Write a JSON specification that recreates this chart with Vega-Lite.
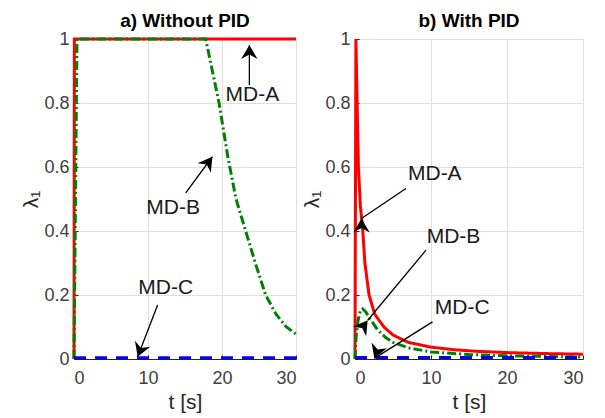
{
  "$schema": "https://vega.github.io/schema/vega-lite/v6.json",
  "background": "white",
  "padding": {"left": 20, "top": 12, "right": 12, "bottom": 2},
  "bounds": "flush",
  "spacing": 59,
  "config": {
    "view": {"stroke": null},
    "font": "Liberation Sans",
    "axis": {
      "labelFont": "Liberation Sans", "labelFontSize": 18, "labelColor": "#404040",
      "titleFont": "Liberation Sans", "titleFontSize": 21, "titleFontWeight": "normal", "titleColor": "#262626",
      "gridColor": "#dedede", "gridWidth": 1, "domainColor": "#262626", "domainWidth": 1,
      "tickColor": "#262626", "tickSize": -4, "labelPadding": 14
    },
    "axisY": {"labelPadding": 9, "titlePadding": 2},
    "title": {"font": "Liberation Sans", "fontSize": 19, "fontWeight": "bold", "color": "#000000", "frame": "group", "offset": -1, "anchor": "middle"}
  },
  "datasets": {
    "left": [
      {"t": 0, "lambda": 0, "series": "MD-A"},
      {"t": 0.05, "lambda": 1, "series": "MD-A"},
      {"t": 30, "lambda": 1, "series": "MD-A"},
      {"t": 0, "lambda": 0, "series": "MD-B"},
      {"t": 0.4, "lambda": 1, "series": "MD-B"},
      {"t": 17.8, "lambda": 1, "series": "MD-B"},
      {"t": 19.6, "lambda": 0.8, "series": "MD-B"},
      {"t": 20.8, "lambda": 0.63, "series": "MD-B"},
      {"t": 21.9, "lambda": 0.5, "series": "MD-B"},
      {"t": 23.2, "lambda": 0.4, "series": "MD-B"},
      {"t": 24.5, "lambda": 0.3, "series": "MD-B"},
      {"t": 25.9, "lambda": 0.2, "series": "MD-B"},
      {"t": 27.3, "lambda": 0.14, "series": "MD-B"},
      {"t": 28.7, "lambda": 0.1, "series": "MD-B"},
      {"t": 30, "lambda": 0.078, "series": "MD-B"},
      {"t": 0, "lambda": 0.004, "series": "MD-C"},
      {"t": 30, "lambda": 0.004, "series": "MD-C"}
    ],
    "right": [
      {"t": 0, "lambda": 0, "series": "MD-A"},
      {"t": 0.12, "lambda": 1.0, "series": "MD-A"},
      {"t": 0.28, "lambda": 0.8, "series": "MD-A"},
      {"t": 0.45, "lambda": 0.6, "series": "MD-A"},
      {"t": 0.7, "lambda": 0.48, "series": "MD-A"},
      {"t": 1.0, "lambda": 0.41, "series": "MD-A"},
      {"t": 1.3, "lambda": 0.3, "series": "MD-A"},
      {"t": 1.85, "lambda": 0.2, "series": "MD-A"},
      {"t": 2.6, "lambda": 0.14, "series": "MD-A"},
      {"t": 3.8, "lambda": 0.1, "series": "MD-A"},
      {"t": 5, "lambda": 0.075, "series": "MD-A"},
      {"t": 7, "lambda": 0.052, "series": "MD-A"},
      {"t": 10, "lambda": 0.037, "series": "MD-A"},
      {"t": 13, "lambda": 0.029, "series": "MD-A"},
      {"t": 16, "lambda": 0.024, "series": "MD-A"},
      {"t": 20, "lambda": 0.02, "series": "MD-A"},
      {"t": 25, "lambda": 0.017, "series": "MD-A"},
      {"t": 30, "lambda": 0.015, "series": "MD-A"},
      {"t": 0, "lambda": 0, "series": "MD-B"},
      {"t": 0.15, "lambda": 0.07, "series": "MD-B"},
      {"t": 0.4, "lambda": 0.12, "series": "MD-B"},
      {"t": 0.7, "lambda": 0.15, "series": "MD-B"},
      {"t": 1.0, "lambda": 0.157, "series": "MD-B"},
      {"t": 1.4, "lambda": 0.148, "series": "MD-B"},
      {"t": 2, "lambda": 0.125, "series": "MD-B"},
      {"t": 3, "lambda": 0.09, "series": "MD-B"},
      {"t": 4, "lambda": 0.068, "series": "MD-B"},
      {"t": 5, "lambda": 0.052, "series": "MD-B"},
      {"t": 7, "lambda": 0.035, "series": "MD-B"},
      {"t": 10, "lambda": 0.022, "series": "MD-B"},
      {"t": 15, "lambda": 0.014, "series": "MD-B"},
      {"t": 20, "lambda": 0.01, "series": "MD-B"},
      {"t": 30, "lambda": 0.006, "series": "MD-B"},
      {"t": 0, "lambda": 0.005, "series": "MD-C"},
      {"t": 30, "lambda": 0.005, "series": "MD-C"}
    ],
    "annLeft": [
      {"label": "MD-A", "tx": 24.1, "ty": 0.824, "x1": 23.7, "y1": 0.856, "x2": 23.7, "y2": 0.981},
      {"label": "MD-B", "tx": 13.4, "ty": 0.472, "x1": 15.1, "y1": 0.519, "x2": 18.7, "y2": 0.632},
      {"label": "MD-C", "tx": 12.4, "ty": 0.223, "x1": 11.3, "y1": 0.169, "x2": 8.6, "y2": 0.007}
    ],
    "annRight": [
      {"label": "MD-A", "tx": 10.5, "ty": 0.579, "x1": 6.7, "y1": 0.533, "x2": 0.85, "y2": 0.439},
      {"label": "MD-B", "tx": 12.96, "ty": 0.381, "x1": 9.34, "y1": 0.34, "x2": 1.67, "y2": 0.121},
      {"label": "MD-C", "tx": 14.1, "ty": 0.159, "x1": 10.2, "y1": 0.116, "x2": 2.54, "y2": 0.002}
    ]
  },
  "hconcat": [
    {
      "width": 222, "height": 320,
      "title": "a) Without PID",
      "layer": [
        {
          "data": {"name": "left"},
          "mark": {"type": "line", "strokeWidth": 3, "clip": false},
          "encoding": {
            "x": {"field": "t", "type": "quantitative", "scale": {"domain": [0, 30], "nice": false}, "axis": {"values": [0, 10, 20, 30], "title": "t [s]"}},
            "y": {"field": "lambda", "type": "quantitative", "scale": {"domain": [0, 1], "nice": false}, "axis": {"values": [0, 0.2, 0.4, 0.6, 0.8, 1], "format": "~g", "title": "λ₁"}},
            "color": {"field": "series", "type": "nominal", "scale": {"domain": ["MD-A", "MD-B", "MD-C"], "range": ["#ff0000", "#008000", "#0000ff"]}, "legend": null},
            "strokeDash": {"field": "series", "type": "nominal", "scale": {"domain": ["MD-A", "MD-B", "MD-C"], "range": [[1, 0], [9, 3, 2, 3], [12, 9]]}, "legend": null}
          }
        },
        {
          "data": {"name": "annLeft"},
          "mark": {"type": "rule", "color": "#000000", "strokeWidth": 1.3},
          "encoding": {
            "x": {"field": "x1", "type": "quantitative"},
            "y": {"field": "y1", "type": "quantitative"},
            "x2": {"field": "x2"},
            "y2": {"field": "y2"}
          }
        },
        {
          "data": {"name": "annLeft"},
          "mark": {"type": "point", "shape": "M0,0L1.3,2.2L0,1.5L-1.3,2.2Z", "filled": true, "size": 160, "color": "#000000", "opacity": 1},
          "encoding": {
            "x": {"field": "x2", "type": "quantitative"},
            "y": {"field": "y2", "type": "quantitative"},
            "angle": {"field": "label", "type": "nominal", "scale": {"type": "ordinal", "domain": ["MD-A", "MD-B", "MD-C"], "range": [0, 36, 201]}, "legend": null}
          }
        },
        {
          "data": {"name": "annLeft"},
          "mark": {"type": "text", "fontSize": 21, "color": "#1a1a1a", "font": "Liberation Sans", "align": "center", "baseline": "middle"},
          "encoding": {
            "x": {"field": "tx", "type": "quantitative"},
            "y": {"field": "ty", "type": "quantitative"},
            "text": {"field": "label"}
          }
        }
      ]
    },
    {
      "width": 228, "height": 320,
      "title": "b) With PID",
      "layer": [
        {
          "data": {"name": "right"},
          "mark": {"type": "line", "strokeWidth": 3, "clip": false},
          "encoding": {
            "x": {"field": "t", "type": "quantitative", "scale": {"domain": [0, 30], "nice": false}, "axis": {"values": [0, 10, 20, 30], "title": "t [s]"}},
            "y": {"field": "lambda", "type": "quantitative", "scale": {"domain": [0, 1], "nice": false}, "axis": {"values": [0, 0.2, 0.4, 0.6, 0.8, 1], "format": "~g", "title": "λ₁"}},
            "color": {"field": "series", "type": "nominal", "scale": {"domain": ["MD-A", "MD-B", "MD-C"], "range": ["#ff0000", "#008000", "#0000ff"]}, "legend": null},
            "strokeDash": {"field": "series", "type": "nominal", "scale": {"domain": ["MD-A", "MD-B", "MD-C"], "range": [[1, 0], [7, 4], [12, 9]]}, "legend": null}
          }
        },
        {
          "data": {"name": "annRight"},
          "mark": {"type": "rule", "color": "#000000", "strokeWidth": 1.3},
          "encoding": {
            "x": {"field": "x1", "type": "quantitative"},
            "y": {"field": "y1", "type": "quantitative"},
            "x2": {"field": "x2"},
            "y2": {"field": "y2"}
          }
        },
        {
          "data": {"name": "annRight"},
          "mark": {"type": "point", "shape": "M0,0L1.3,2.2L0,1.5L-1.3,2.2Z", "filled": true, "size": 160, "color": "#000000", "opacity": 1},
          "encoding": {
            "x": {"field": "x2", "type": "quantitative"},
            "y": {"field": "y2", "type": "quantitative"},
            "angle": {"field": "label", "type": "nominal", "scale": {"type": "ordinal", "domain": ["MD-A", "MD-B", "MD-C"], "range": [236, 220, 238]}, "legend": null}
          }
        },
        {
          "data": {"name": "annRight"},
          "mark": {"type": "text", "fontSize": 21, "color": "#1a1a1a", "font": "Liberation Sans", "align": "center", "baseline": "middle"},
          "encoding": {
            "x": {"field": "tx", "type": "quantitative"},
            "y": {"field": "ty", "type": "quantitative"},
            "text": {"field": "label"}
          }
        }
      ]
    }
  ]
}
